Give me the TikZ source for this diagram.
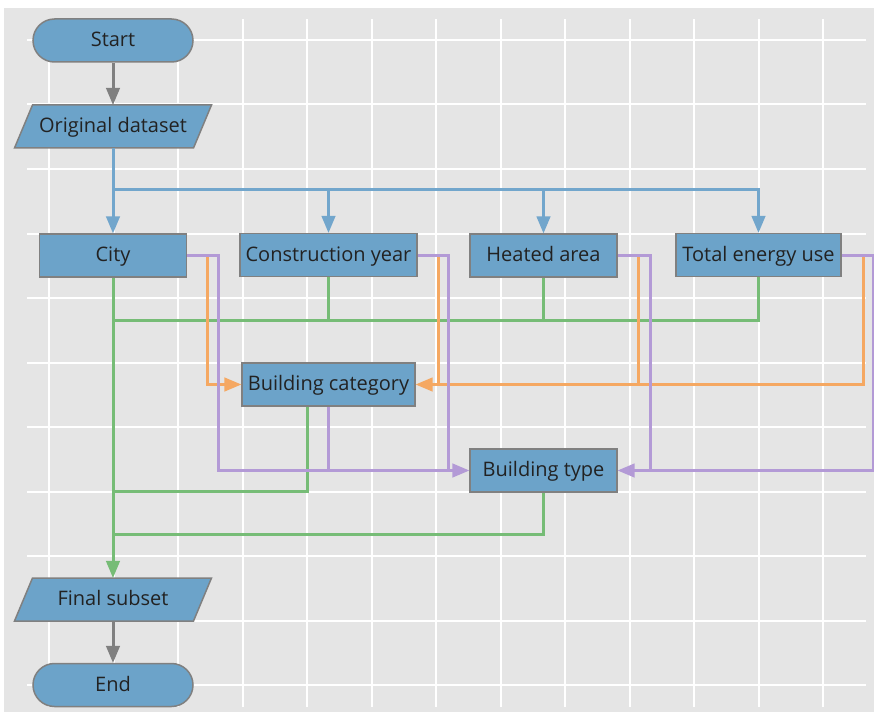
\documentclass[tikz,border=0pt]{standalone}
\usepackage{fontspec}
\setmainfont{Open Sans}
\usetikzlibrary{arrows}

\definecolor{panel}{HTML}{E5E5E5}
\definecolor{boxfill}{HTML}{6CA3C9}
\definecolor{boxline}{HTML}{808080}
\definecolor{txt}{HTML}{222222}
\definecolor{lineblue}{HTML}{72A6CC}
\definecolor{linegreen}{HTML}{76BC76}
\definecolor{lineorange}{HTML}{F5A862}
\definecolor{linepurple}{HTML}{B39AD6}
\definecolor{linegrey}{HTML}{808080}

\tikzset{
  label/.style={text=txt,minimum height=43bp,inner sep=0pt,
    text height=16bp,text depth=3.4bp,font=\fontsize{20bp}{24bp}\selectfont},
  box/.style={label,draw=boxline,fill=boxfill,line width=1.5bp},
  terminal/.style={box,rounded corners=21.5bp,minimum width=160bp},
  process/.style={box,rectangle},
  data/.style={label,rectangle,minimum width=179bp},
  dshape/.style={draw=boxline,fill=boxfill,line width=1.5bp,line join=miter},
  conn/.style={line width=3bp},
  bline/.style={conn,lineblue},
  gline/.style={conn,linegreen},
  oline/.style={conn,lineorange},
  pline/.style={conn,linepurple},
  kline/.style={conn,linegrey}
}

\begin{document}
\begin{tikzpicture}[line cap=butt,line join=miter,>=triangle 45,x=1bp,y=-1bp]
    \useasboundingbox (0,0) rectangle (874,713);
    \fill[panel] (4,8) rectangle (874,712);
    \foreach \k in {0,...,12}
        \draw[white,line width=2bp] (49+64.5*\k,19) -- (49+64.5*\k,707);
    \foreach \k in {0,...,10}
        \draw[white,line width=2bp] (27,40+64.5*\k) -- (866,40+64.5*\k);

    % the two data parallelograms
    \foreach \y in {126.5,599.5}
        \draw[dshape] (113,\y) ++(-80.5,-21.5) -- ++(179,0) -- ++(-18,43) -- ++(-179,0) -- cycle;

    \node[terminal] (start) at (113,40.5) {Start};
    \node[data] (orig) at (113,126.5) {Original dataset};
    \node[process,minimum width=147bp] (city) at (113,255.5) {City};
    \node[process,minimum width=177bp] (year) at (328.5,255) {Construction year};
    \node[process,minimum width=147bp] (area) at (543.5,255.5) {Heated area};
    \node[process,minimum width=165bp] (energy) at (758.5,255) {Total energy use};
    \node[process,minimum width=173bp] (categ) at (328.5,384.5) {Building category};
    \node[process,minimum width=147bp] (btype) at (543.5,470.5) {Building type};
    \node[data] (final) at (113,599.5) {Final subset};
    \node[terminal] (stop) at (113,685) {End};

    \coordinate (split) at (113,189);
    \coordinate (gmid) at (113,320);
    \coordinate (gcat) at (113,491);
    \coordinate (gtyp) at (113,534);

    % start and end
    \draw[kline,->] (start) -- (orig);
    \draw[kline,->] (final) -- (stop);

    % dataset to the four attributes
    \draw[bline,->] (orig) -- (city);
    \draw[bline,->] (split) -| (year.north);
    \draw[bline,->] (split) -| (area.north);
    \draw[bline,->] (split) -| (energy.north);

    % kept records
    \draw[gline] (year.south) |- (gmid);
    \draw[gline] (area.south) |- (gmid);
    \draw[gline] (energy.south) |- (gmid);
    \draw[gline] ([xshift=-21.5bp]categ.south) |- (gcat);
    \draw[gline] (btype.south) |- (gtyp);
    \draw[gline,->] (city) -- (final);

    % to building category
    \draw[oline,->] (city.east) -| ([xshift=-34bp]categ.west) -- (categ.west);
    \draw[oline] (year.east) -| ([xshift=23bp]categ.east);
    \draw[oline] (area.east) -| ([xshift=223bp]categ.east);
    \draw[oline,->] (energy.east) -| ([xshift=448bp]categ.east) -- (categ.east);

    % to building type
    \draw[pline,->] (city.east) -| ([xshift=-251bp]btype.west) -- (btype.west);
    \draw[pline] (year.east) -| ([xshift=-21bp]btype.west);
    \draw[pline] (categ.south) |- ([xshift=-21bp]btype.west);
    \draw[pline] (area.east) -| ([xshift=33bp]btype.east);
    \draw[pline,->] (energy.east) -| ([xshift=256bp]btype.east) -- (btype.east);
\end{tikzpicture}
\end{document}
